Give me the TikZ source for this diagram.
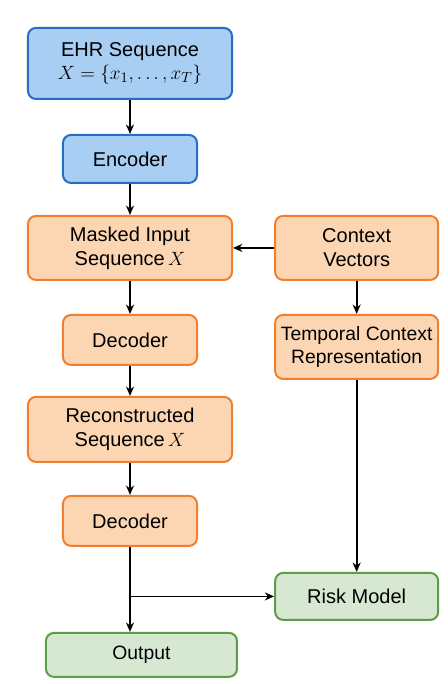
\documentclass[tikz,border=0pt]{standalone}
\usepackage{amsmath,amssymb}
\usepackage{fontspec}
\setmainfont{Liberation Sans}
\usetikzlibrary{shapes,arrows,arrows.meta,positioning}

\definecolor{encfill}{RGB}{168,206,244}
\definecolor{encdraw}{RGB}{36,110,196}
\definecolor{maskfill}{RGB}{252,214,178}
\definecolor{maskdraw}{RGB}{240,128,48}
\definecolor{riskfill}{RGB}{214,232,210}
\definecolor{riskdraw}{RGB}{92,158,68}

\begin{document}
\begin{tikzpicture}[auto, font=\fontsize{15}{18}\selectfont]
    % Define styles
    \tikzstyle{inputbox} = [rectangle, draw=encdraw, fill=encfill, line width=1.5pt, align=center, rounded corners=6pt, inner sep=2pt]
    \tikzstyle{process} = [rectangle, draw=maskdraw, fill=maskfill, line width=1.5pt, align=center, rounded corners=6pt, inner sep=2pt]
    \tikzstyle{result} = [rectangle, draw=riskdraw, fill=riskfill, line width=1.5pt, align=center, rounded corners=6pt, inner sep=2pt]
    \tikzstyle{arrow} = [line width=1.3pt,-{Stealth[length=7pt,width=6pt]}]

    \useasboundingbox (-97.5pt,47.6pt) rectangle (238.5pt,-465.4pt);

    % Encoding path
    \node [inputbox, minimum width=153pt, minimum height=53.25pt] (ehr) {EHR Sequence\\[-1pt]$X=\{x_1,\ldots,x_T\}$};
    \node [inputbox, below of=ehr, node distance=71.6pt, minimum width=100.5pt, minimum height=36pt] (enc) {Encoder};

    % Masked reconstruction
    \node [process, below of=enc, node distance=66.75pt, minimum width=153pt, minimum height=48pt] (masked) {Masked Input\\Sequence\,$X$};
    \node [process, below of=masked, node distance=69pt, minimum width=100.5pt, minimum height=37.5pt] (dec1) {Decoder};
    \node [process, below of=dec1, node distance=67.1pt, minimum width=153pt, minimum height=48.75pt] (recon) {Reconstructed\\Sequence\,$X$};
    \node [process, below of=recon, node distance=68.6pt, minimum width=100.5pt, minimum height=37.5pt] (dec2) {Decoder};

    % Context branch
    \node [process, right of=masked, node distance=170pt, minimum width=122.25pt, minimum height=48pt] (ctx) {Context\\Vectors};
    \node [process, below of=ctx, node distance=74.25pt, minimum width=122.25pt, minimum height=48pt, font=\fontsize{14.5}{17}\selectfont, inner sep=1pt] (temporal) {Temporal Context\\Representation};

    % Outputs
    \node [result, below of=temporal, node distance=187.1pt, minimum width=122.25pt, minimum height=35.25pt] (risk) {Risk Model};
    \node [result, below of=dec2, node distance=100.5pt, xshift=8.6pt, minimum width=143.25pt, minimum height=33pt, font=\fontsize{14.5}{17}\selectfont] (output) {Output};
    \coordinate (split) at (dec2.south |- risk.west);

    % Arrows
    \draw [arrow] (ehr) -- (enc);
    \draw [arrow] (enc) -- (masked);
    \draw [arrow] (ctx) -- (masked);
    \draw [arrow] (masked) -- (dec1);
    \draw [arrow] (dec1) -- (recon);
    \draw [arrow] (recon) -- (dec2);
    \draw [arrow] (ctx) -- (temporal);
    \draw [arrow] (temporal) -- (risk);
    \draw [arrow] (dec2.south) -- (dec2.south |- output.north);
    \draw [arrow] (split) -- (risk.west);
\end{tikzpicture}
\end{document}
